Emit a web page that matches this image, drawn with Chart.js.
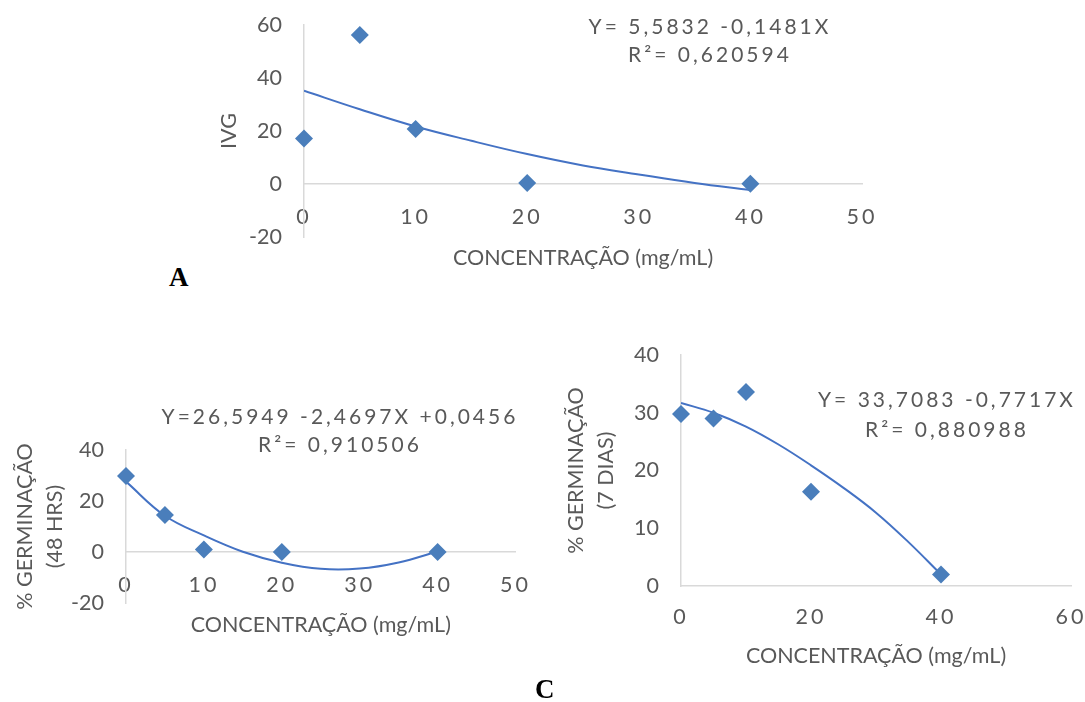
<!DOCTYPE html>
<html>
<head>
<meta charset="utf-8">
<script src="https://cdn.jsdelivr.net/npm/chart.js@4.4.0/dist/chart.umd.min.js"></script>
<style>
  body { margin: 0; background: #fff; width: 1085px; height: 702px; position: relative; overflow: hidden; }
  canvas { position: absolute; }
  .eq { position: absolute; font-family: Lato, sans-serif; font-size: 21px; color: #595959;
        letter-spacing: 3px; text-align: center; white-space: nowrap; }
  .tag { position: absolute; font-family: "Liberation Serif", serif; font-weight: bold; font-size: 27px; color: #000; }
</style>
</head>
<body>
<canvas id="chartA" width="680" height="327" style="left:200px;top:0px"></canvas>
<canvas id="chartB" width="540" height="311" style="left:0px;top:380px"></canvas>
<canvas id="chartC" width="525" height="346" style="left:560px;top:330px"></canvas>

<div class="eq" style="left:560px;top:12px;width:300px;line-height:28px">Y= 5,5832 -0,1481X<br>R²= 0,620594</div>
<div class="eq" style="left:140px;top:402px;width:400px;line-height:27.5px">Y=26,5949 -2,4697X +0,0456<br>R²= 0,910506</div>
<div class="eq" style="left:797px;top:384px;width:300px;line-height:30px">Y= 33,7083 -0,7717X<br>R²= 0,880988</div>

<div class="tag" style="left:169px;top:262px">A</div>
<div class="tag" style="left:535px;top:674px">C</div>

<script>
// concentrations (mg/mL)
const conc = [0, 5, 10, 20, 40];
const trendX = [0, 5, 10, 15, 20, 25, 30, 35, 40];

// A: IVG
const ivg = [17.2, 56.2, 20.8, 0.4, 0.1];
const ivgTrend = [35.2, 28.2, 21.7, 16.3, 11.3, 7.0, 3.6, 0.4, -2.3];

// B: % germinação 48 hrs
const germ48 = [29.8, 14.5, 1.0, 0, 0];
const germ48Trend = [27.6, 14.2, 6.5, 0.1, -4.2, -6.6, -6.5, -4.1, 0.2];

// C: % germinação 7 dias
const germ7 = [29.8, 29.0, 33.6, 16.3, 2.0];
const germ7Trend = [31.7, 30.0, 27.6, 24.5, 20.9, 17.0, 12.7, 7.6, 2.0];

const TEXT = '#595959';
const AXIS = '#d9d9d9';
const MARK = '#4a7ebb';
const LINE = '#4472c4';
const font = { family: 'Lato', size: 21.5 };

function pts(xs, ys) {
  return xs.map((x, i) => ({ x: x, y: ys[i] }));
}

// scales ask for label overflow room on top of the layout padding; the layout padding is set by hand here
function noPad(s) {
  s.paddingTop = 0; s.paddingBottom = 0; s.paddingLeft = 0; s.paddingRight = 0;
}

function makeChart(id, cfg) {
  const chart = new Chart(document.getElementById(id), {
    type: 'scatter',
    data: {
      datasets: [
        { data: pts(conc, cfg.values), pointStyle: 'rectRot', pointRadius: 9, clip: false,
          backgroundColor: MARK, borderColor: MARK, borderWidth: 0, order: 1 },
        { data: pts(trendX, cfg.trend), showLine: true, pointRadius: 0, tension: 0.4,
          borderColor: LINE, borderWidth: 2, order: 2 }
      ]
    },
    options: {
      responsive: false,
      animation: false,
      layout: { padding: cfg.padding },
      plugins: { legend: { display: false }, tooltip: { enabled: false } },
      scales: {
        x: {
          type: 'linear', min: 0, max: cfg.xMax, position: cfg.xPos,
          ticks: { stepSize: cfg.xStep, color: TEXT, font: font, padding: cfg.xTickPad },
          grid: { display: false, drawTicks: false },
          border: { color: AXIS, width: 1.5 },
          title: { display: true, text: 'CONCENTRAÇÃO (mg/mL)', color: TEXT, font: font,
                   padding: { top: 0, bottom: cfg.xTitlePad } },
          afterFit: s => { s.height = cfg.xHeight; noPad(s); }
        },
        y: {
          min: cfg.yMin, max: cfg.yMax,
          ticks: { stepSize: cfg.yStep, color: TEXT, font: font, padding: 22 },
          grid: { display: false, drawTicks: false },
          border: { color: AXIS, width: 1.5 },
          title: { display: true, text: cfg.yTitle, color: TEXT,
                   font: { family: 'Lato', size: 21.5, lineHeight: cfg.yTitleLh },
                   padding: { top: cfg.yTitlePad, bottom: 0 } },
          afterFit: s => { s.width = cfg.yWidth; noPad(s); }
        }
      }
    }
  });

  // x tick labels are letter-spaced in the original
  const sc = chart.scales.x;
  const base = sc.drawLabels.bind(sc);
  sc.drawLabels = area => {
    chart.ctx.save();
    chart.ctx.letterSpacing = '3px';
    base(area);
    chart.ctx.restore();
  };
  chart.draw();
  return chart;
}

makeChart('chartA', {
  values: ivg, trend: ivgTrend,
  xMax: 50, xStep: 10, xPos: { y: 0 }, xTickPad: 20, xTitlePad: 2.6, xHeight: 90,
  yMin: -20, yMax: 60, yStep: 20, yTitle: 'IVG', yTitleLh: 1.2, yTitlePad: 16, yWidth: 104,
  padding: { left: 0, right: 18, top: 25, bottom: 90 }
});

makeChart('chartB', {
  values: germ48, trend: germ48Trend,
  xMax: 50, xStep: 10, xPos: { y: 0 }, xTickPad: 20, xTitlePad: 2.1, xHeight: 88,
  yMin: -20, yMax: 40, yStep: 20, yTitle: ['% GERMINAÇÃO', '(48 HRS)'], yTitleLh: 1.37, yTitlePad: 10.5, yWidth: 126,
  padding: { left: 0, right: 24.5, top: 70, bottom: 88 }
});

makeChart('chartC', {
  values: germ7, trend: germ7Trend,
  xMax: 60, xStep: 20, xPos: 'bottom', xTickPad: 18, xTitlePad: 7.1, xHeight: 90,
  yMin: 0, yMax: 40, yStep: 10, yTitle: ['% GERMINAÇÃO', '(7 DIAS)'], yTitleLh: 1.4, yTitlePad: 1, yWidth: 121,
  padding: { left: 0, right: 14, top: 25, bottom: 0 }
});
</script>
</body>
</html>
